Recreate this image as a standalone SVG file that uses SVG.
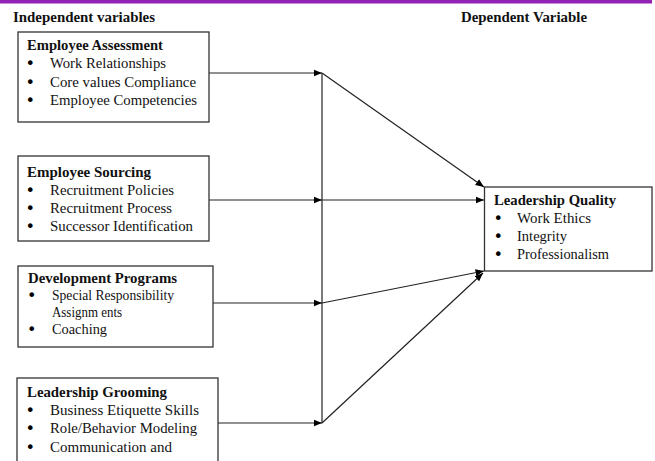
<svg xmlns="http://www.w3.org/2000/svg" width="655" height="461" viewBox="0 0 655 461">
<defs>
<style>
text{font-family:"Liberation Serif","Times New Roman",serif;font-size:14.5px;fill:#111;}
.b{font-weight:bold;}
.u{font-family:"DejaVu Sans",sans-serif;font-size:16px;fill:#000;}
.box{fill:#fff;stroke:#333;stroke-width:1.3;}
.c{stroke:#222;stroke-width:1.2;fill:none;}
</style>
<marker id="ah" markerUnits="userSpaceOnUse" markerWidth="9" markerHeight="8" refX="8.5" refY="4" orient="auto">
<path d="M0,0.5 L8.5,4 L0,7.5 Z" fill="#000"/>
</marker>
</defs>
<rect x="0" y="0" width="652" height="3.5" fill="#9222b3"/>
<text class="b" x="13" y="22" textLength="142" lengthAdjust="spacingAndGlyphs">Independent variables</text>
<text class="b" x="461" y="22" textLength="126" lengthAdjust="spacingAndGlyphs">Dependent Variable</text>

<g id="connectors">
<line class="c" x1="209" y1="73" x2="322" y2="73" marker-end="url(#ah)"/>
<line class="c" x1="209" y1="200" x2="322" y2="200" marker-end="url(#ah)"/>
<line class="c" x1="213" y1="303" x2="322" y2="303" marker-end="url(#ah)"/>
<line class="c" x1="218" y1="423" x2="322" y2="423" marker-end="url(#ah)"/>
<line class="c" x1="322" y1="73" x2="322" y2="423"/>
<line class="c" x1="322" y1="73" x2="484" y2="187" marker-end="url(#ah)"/>
<line class="c" x1="322" y1="200" x2="484" y2="200" marker-end="url(#ah)"/>
<line class="c" x1="322" y1="303" x2="484" y2="271" marker-end="url(#ah)"/>
<line class="c" x1="322" y1="423" x2="483" y2="273" marker-end="url(#ah)"/>
</g>

<g id="employee-assessment">
<rect class="box" x="18" y="32" width="191" height="90"/>
<text class="b" x="27" y="50" textLength="136" lengthAdjust="spacingAndGlyphs">Employee Assessment</text>
<text class="u" x="25.5" y="69">•</text><text x="50" y="68" textLength="116" lengthAdjust="spacingAndGlyphs">Work Relationships</text>
<text class="u" x="25.5" y="88">•</text><text x="50" y="87" textLength="146" lengthAdjust="spacingAndGlyphs">Core values Compliance</text>
<text class="u" x="25.5" y="106">•</text><text x="50" y="105" textLength="147" lengthAdjust="spacingAndGlyphs">Employee Competencies</text>
</g>

<g id="employee-sourcing">
<rect class="box" x="18" y="156" width="191" height="85"/>
<text class="b" x="27" y="177" textLength="124" lengthAdjust="spacingAndGlyphs">Employee Sourcing</text>
<text class="u" x="25.5" y="196">•</text><text x="50" y="195" textLength="124" lengthAdjust="spacingAndGlyphs">Recruitment Policies</text>
<text class="u" x="25.5" y="214">•</text><text x="50" y="213" textLength="122" lengthAdjust="spacingAndGlyphs">Recruitment Process</text>
<text class="u" x="25.5" y="232">•</text><text x="50" y="231" textLength="143" lengthAdjust="spacingAndGlyphs">Successor Identification</text>
</g>

<g id="development-programs">
<rect class="box" x="18" y="266" width="195" height="81"/>
<text class="b" x="28" y="283" textLength="149" lengthAdjust="spacingAndGlyphs">Development  Programs</text>
<text class="u" x="27" y="301">•</text><text x="52" y="300" font-size="13.5" textLength="122" lengthAdjust="spacingAndGlyphs">Special Responsibility</text>
<text x="52" y="317" font-size="13.5" textLength="70" lengthAdjust="spacingAndGlyphs">Assignm ents</text>
<text class="u" x="27" y="335">•</text><text x="52" y="334" textLength="55" lengthAdjust="spacingAndGlyphs">Coaching</text>
</g>

<g id="leadership-grooming">
<rect class="box" x="17" y="378" width="201" height="95"/>
<text class="b" x="27" y="397" textLength="140" lengthAdjust="spacingAndGlyphs">Leadership  Grooming</text>
<text class="u" x="25.5" y="416">•</text><text x="50" y="415" textLength="149" lengthAdjust="spacingAndGlyphs">Business Etiquette Skills</text>
<text class="u" x="25.5" y="434">•</text><text x="50" y="433" textLength="147" lengthAdjust="spacingAndGlyphs">Role/Behavior Modeling</text>
<text class="u" x="25.5" y="453">•</text><text x="50" y="452" textLength="122" lengthAdjust="spacingAndGlyphs">Communication and</text>
</g>

<g id="leadership-quality">
<rect class="box" x="484.5" y="187" width="167.5" height="84"/>
<text class="b" x="494" y="205" textLength="122" lengthAdjust="spacingAndGlyphs">Leadership  Quality</text>
<text class="u" x="493.5" y="224">•</text><text x="517" y="223" textLength="74" lengthAdjust="spacingAndGlyphs">Work Ethics</text>
<text class="u" x="493.5" y="242">•</text><text x="517" y="241" textLength="50" lengthAdjust="spacingAndGlyphs">Integrity</text>
<text class="u" x="493.5" y="260">•</text><text x="517" y="259" textLength="92" lengthAdjust="spacingAndGlyphs">Professionalism</text>
</g>
</svg>
